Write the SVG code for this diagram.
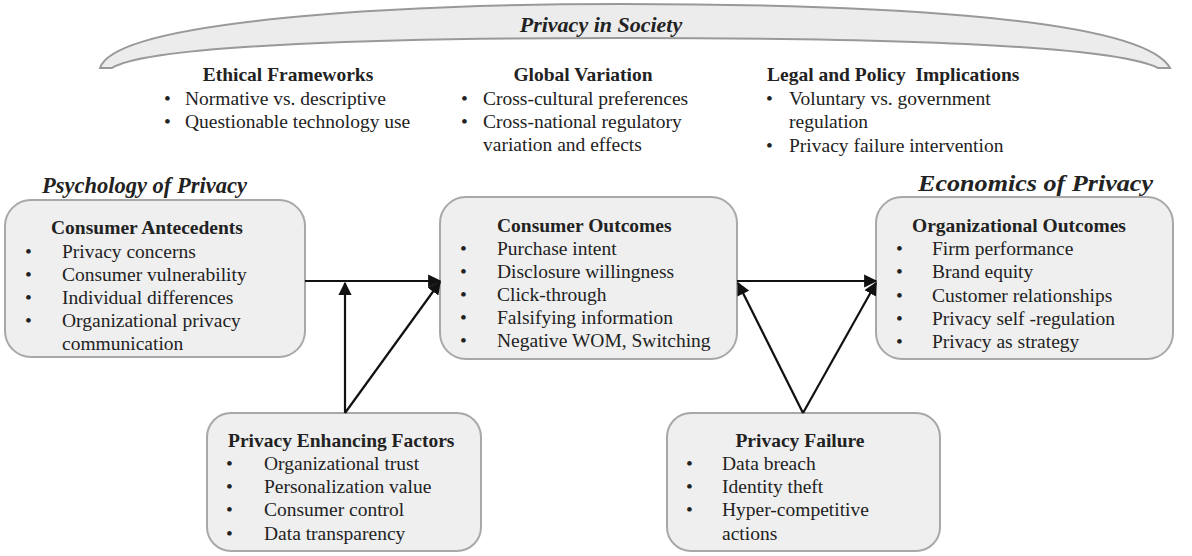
<svg xmlns="http://www.w3.org/2000/svg" width="1192" height="556" viewBox="0 0 1192 556">
<style>
text{font-family:"Liberation Serif","Times New Roman",serif;fill:#222;font-size:19.5px}
.h{font-weight:bold}
.bi{font-weight:bold;font-style:italic;font-size:22.5px}
.box{fill:#efefef;stroke:#a8a8a8;stroke-width:2}
.c{stroke:#111;stroke-width:2.2;fill:none}
</style>
<defs>
<marker id="ah" viewBox="0 0 10 10" refX="9" refY="5" markerWidth="6" markerHeight="6" orient="auto">
<path d="M0,0 L10,5 L0,10 z" fill="#111"/>
</marker>
</defs>
<rect width="1192" height="556" fill="#fff"/>
<g id="society">
<path d="M100,68 C115,20 400,4 620,4 C840,4 1140,14 1170,68 L1158,68 C1110,44 880,38 620,38 C400,38 150,44 112,68 Z" fill="#ececec" stroke="#999" stroke-width="2"/>
<text x="601" y="32" text-anchor="middle" class="bi" style="font-size:22px">Privacy in Society</text>
</g>
<g id="ethical">
<text x="288" y="81" text-anchor="middle" class="h">Ethical Frameworks</text>
<text x="164" y="105">•</text><text x="185" y="105">Normative vs. descriptive</text>
<text x="164" y="128">•</text><text x="185" y="128">Questionable technology use</text>
</g>
<g id="global">
<text x="583" y="81" text-anchor="middle" class="h">Global Variation</text>
<text x="461" y="105">•</text><text x="483" y="105">Cross-cultural preferences</text>
<text x="461" y="128">•</text><text x="483" y="128">Cross-national regulatory</text>
<text x="483" y="151">variation and effects</text>
</g>
<g id="legal">
<text x="767" y="81" class="h" xml:space="preserve">Legal and Policy  Implications</text>
<text x="766" y="105">•</text><text x="789" y="105">Voluntary vs. government</text>
<text x="789" y="128">regulation</text>
<text x="766" y="152">•</text><text x="789" y="152">Privacy failure intervention</text>
</g>
<text x="42" y="193" class="bi">Psychology of Privacy</text>
<text x="1153" y="191" text-anchor="end" class="bi" textLength="235" lengthAdjust="spacingAndGlyphs">Economics of Privacy</text>
<g id="antecedents">
<rect x="5" y="200" width="300" height="157" rx="26" class="box"/>
<text x="147" y="234" text-anchor="middle" class="h">Consumer Antecedents</text>
<text x="25" y="258">•</text><text x="62" y="258">Privacy concerns</text>
<text x="25" y="281">•</text><text x="62" y="281">Consumer vulnerability</text>
<text x="25" y="304">•</text><text x="62" y="304">Individual differences</text>
<text x="25" y="327">•</text><text x="62" y="327">Organizational privacy</text>
<text x="62" y="350">communication</text>
</g>
<g id="outcomes">
<rect x="440" y="197" width="297" height="162" rx="26" class="box"/>
<text x="497" y="232" class="h">Consumer Outcomes</text>
<text x="460" y="255">•</text><text x="497" y="255">Purchase intent</text>
<text x="460" y="278">•</text><text x="497" y="278">Disclosure willingness</text>
<text x="460" y="301">•</text><text x="497" y="301">Click-through</text>
<text x="460" y="324">•</text><text x="497" y="324">Falsifying information</text>
<text x="460" y="347">•</text><text x="497" y="347">Negative WOM, Switching</text>
</g>
<g id="org">
<rect x="876" y="197" width="297" height="162" rx="26" class="box"/>
<text x="912" y="232" class="h">Organizational Outcomes</text>
<text x="896" y="255">•</text><text x="932" y="255">Firm performance</text>
<text x="896" y="278">•</text><text x="932" y="278">Brand equity</text>
<text x="896" y="302">•</text><text x="932" y="302">Customer relationships</text>
<text x="896" y="325">•</text><text x="932" y="325">Privacy self -regulation</text>
<text x="896" y="348">•</text><text x="932" y="348">Privacy as strategy</text>
</g>
<g id="enhancing">
<rect x="207" y="413" width="274" height="138" rx="24" class="box"/>
<text x="228" y="447" class="h">Privacy Enhancing Factors</text>
<text x="226" y="470">•</text><text x="264" y="470">Organizational trust</text>
<text x="226" y="493">•</text><text x="264" y="493">Personalization value</text>
<text x="226" y="516">•</text><text x="264" y="516">Consumer control</text>
<text x="226" y="540">•</text><text x="264" y="540">Data transparency</text>
</g>
<g id="failure">
<rect x="667" y="413" width="273" height="138" rx="24" class="box"/>
<text x="800" y="447" text-anchor="middle" class="h">Privacy Failure</text>
<text x="686" y="470">•</text><text x="722" y="470">Data breach</text>
<text x="686" y="493">•</text><text x="722" y="493">Identity theft</text>
<text x="686" y="516">•</text><text x="722" y="516">Hyper-competitive</text>
<text x="722" y="540">actions</text>
</g>
<g id="connectors">
<line x1="305" y1="281" x2="440" y2="281" class="c" marker-end="url(#ah)"/>
<line x1="345" y1="413" x2="345" y2="283" class="c" marker-end="url(#ah)"/>
<line x1="345" y1="413" x2="440" y2="282" class="c" marker-end="url(#ah)"/>
<line x1="737" y1="281" x2="876" y2="281" class="c" marker-end="url(#ah)"/>
<line x1="803" y1="413" x2="738" y2="283" class="c" marker-end="url(#ah)"/>
<line x1="803" y1="413" x2="876" y2="283" class="c" marker-end="url(#ah)"/>
</g>
</svg>
